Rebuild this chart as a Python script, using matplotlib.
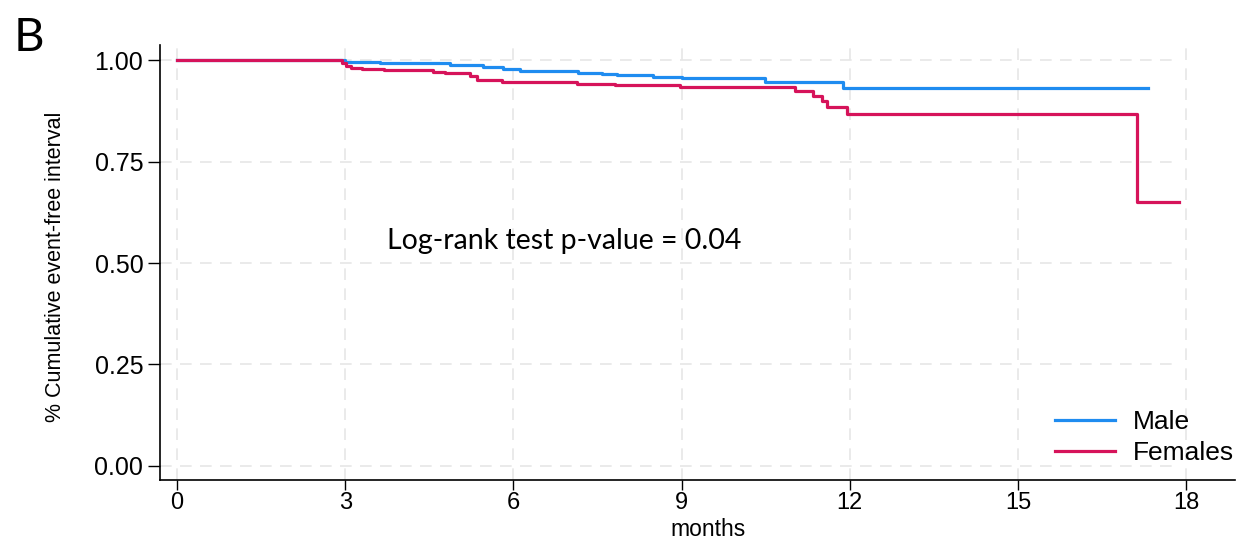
import matplotlib.pyplot as plt
from matplotlib.lines import Line2D

# Kaplan-Meier step estimates (months, survival)
male_t = [0, 3.0, 3.62, 4.87, 5.46, 5.81, 6.12, 7.15, 7.58, 7.85, 8.49, 9.0,
          10.49, 11.88, 17.32]
male_s = [1.0, 0.996, 0.992, 0.987, 0.982, 0.977, 0.972, 0.968, 0.966, 0.963,
          0.959, 0.955, 0.947, 0.930, 0.930]

female_t = [0, 2.95, 3.02, 3.1, 3.3, 3.7, 4.57, 4.78, 5.23, 5.35, 5.8, 7.13,
            7.81, 8.97, 11.03, 11.34, 11.5, 11.6, 11.95, 17.12, 17.87]
female_s = [1.0, 0.992, 0.985, 0.981, 0.978, 0.975, 0.971, 0.967, 0.961, 0.951,
            0.945, 0.941, 0.938, 0.934, 0.923, 0.912, 0.900, 0.885, 0.866,
            0.650, 0.650]

x_ticks = [0, 3, 6, 9, 12, 15, 18]
y_ticks = [0.0, 0.25, 0.5, 0.75, 1.0]
labels = ["Male", "Females"]
p_text = "Log-rank test p-value = 0.04"

blue = "#1f8cf0"
red = "#d6135a"

plt.rcParams["font.family"] = ["Liberation Sans", "DejaVu Sans"]

fig = plt.figure(figsize=(12.55, 5.41), dpi=100)
ax = fig.add_axes([0.1275, 0.1128, 0.984 - 0.1275, 0.9168 - 0.1128])

ax.step(male_t, male_s, where="post", color=blue, lw=2.3, zorder=3)
ax.step(female_t, female_s, where="post", color=red, lw=2.3, zorder=3)

ax.set_xlim(-0.303, 18.87)
ax.set_ylim(-0.0345, 1.037)

# dashed light grid
for xv in x_ticks:
    ax.axvline(xv, color="#e6e6e6", lw=1.2, ls=(0, (7, 5)), zorder=1)
for yv in y_ticks:
    ax.plot([-0.303, 17.75], [yv, yv], color="#e6e6e6", lw=1.2,
            ls=(0, (7, 5)), zorder=1)

ax.set_xticks(x_ticks)
ax.set_xticklabels([str(v) for v in x_ticks], fontsize=17)
ax.set_yticks(y_ticks)
ax.set_yticklabels(["%.2f" % v for v in y_ticks], fontsize=18)
ax.tick_params(axis="y", length=8.5, width=1, pad=3.5)
ax.tick_params(axis="x", length=7, width=1, pad=2)

for side in ["top", "right"]:
    ax.spines[side].set_visible(False)
for side in ["left", "bottom"]:
    ax.spines[side].set_linewidth(1.2)

ax.set_xlabel("months", fontsize=16.5)
ax.xaxis.set_label_coords(0.51, -0.087)
ax.set_ylabel("% Cumulative event-free interval", fontsize=15.5)
ax.yaxis.set_label_coords(-0.087, 0.49)

ax.text(3.75, 0.554, p_text, fontsize=20.5, family=["Lato", "DejaVu Sans"],
        va="center", ha="left")

handles = [Line2D([], [], color=blue, lw=2.3), Line2D([], [], color=red, lw=2.3)]
ax.legend(handles, labels, loc="lower right", bbox_to_anchor=(1.011, 0.004),
          frameon=False, fontsize=19, handlelength=2.3, handletextpad=0.65,
          labelspacing=0.25, borderpad=0.0)

fig.text(0.011, 0.905, "B", fontsize=34, family=["Lato", "DejaVu Sans"])

fig.savefig("out.png", dpi=100)
